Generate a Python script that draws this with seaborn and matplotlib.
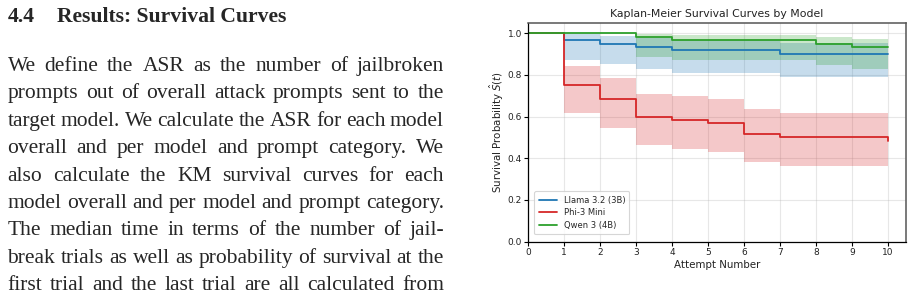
import numpy as np
import pandas as pd
import matplotlib
matplotlib.use("Agg")
import matplotlib.pyplot as plt
import seaborn as sns

# ---------------- data ----------------
attempts = [0, 1, 2, 3, 4, 5, 6, 7, 8, 9, 10]
models = ["Llama 3.2 (3B)", "Phi-3 Mini", "Qwen 3 (4B)"]
colors = ["#1f77b4", "#d62728", "#2ca02c"]

llama_surv = [1.0, 0.967, 0.950, 0.933, 0.917, 0.917, 0.917, 0.900, 0.900, 0.900, 0.900]
llama_lo   = [1.0, 0.869, 0.850, 0.829, 0.810, 0.810, 0.810, 0.789, 0.789, 0.789, 0.789]
llama_hi   = [1.0, 0.994, 0.985, 0.975, 0.966, 0.966, 0.966, 0.955, 0.955, 0.955, 0.955]

phi_surv = [1.0, 0.750, 0.683, 0.600, 0.583, 0.567, 0.517, 0.500, 0.500, 0.500, 0.483]
phi_lo   = [1.0, 0.617, 0.547, 0.462, 0.444, 0.428, 0.380, 0.365, 0.365, 0.365, 0.350]
phi_hi   = [1.0, 0.841, 0.784, 0.710, 0.697, 0.683, 0.636, 0.618, 0.618, 0.618, 0.600]

qwen_surv = [1.0, 1.0, 1.0, 0.983, 0.967, 0.967, 0.967, 0.967, 0.950, 0.933, 0.933]
qwen_lo   = [1.0, 1.0, 1.0, 0.885, 0.869, 0.869, 0.869, 0.869, 0.849, 0.827, 0.827]
qwen_hi   = [1.0, 1.0, 1.0, 0.998, 0.991, 0.991, 0.991, 0.991, 0.983, 0.974, 0.974]

x_ticks = [0, 1, 2, 3, 4, 5, 6, 7, 8, 9, 10]
y_ticks = [0.0, 0.2, 0.4, 0.6, 0.8, 1.0]

heading_num = "4.4"
heading_txt = "Results: Survival Curves"
body_lines = [
    "We define the ASR as the number of jailbroken",
    "prompts out of overall attack prompts sent to the",
    "target model. We calculate the ASR for each model",
    "overall and per model and prompt category.  We",
    "also calculate the KM survival curves for each",
    "model overall and per model and prompt category.",
    "The median time in terms of the number of jail-",
    "break trials as well as probability of survival at the",
    "first trial and the last trial are all calculated from",
]

# ---------------- figure ----------------
sns.set_theme(style="whitegrid")
plt.rcParams["font.family"] = ["DejaVu Sans"]

W, H, DPI = 913, 298, 100
fig = plt.figure(figsize=(W / DPI, H / DPI), dpi=DPI)
fig.patch.set_facecolor("white")

ax_l, ax_r, ax_t, ax_b = 528.3, 905.7, 22.7, 241.7
ax = fig.add_axes([ax_l / W, 1 - ax_b / H, (ax_r - ax_l) / W, (ax_b - ax_t) / H])

surv = [llama_surv, phi_surv, qwen_surv]
los = [llama_lo, phi_lo, qwen_lo]
his = [llama_hi, phi_hi, qwen_hi]

df = pd.DataFrame({
    "Attempt": np.tile(attempts, len(models)),
    "Survival": np.concatenate(surv),
    "Model": np.repeat(models, len(attempts)),
})

for m, c, lo, hi in zip(models, colors, los, his):
    ax.fill_between(attempts, lo, hi, step="post", color=c, alpha=0.25, linewidth=0)

sns.lineplot(data=df, x="Attempt", y="Survival", hue="Model", hue_order=models,
             palette=colors, drawstyle="steps-post", estimator=None, sort=True,
             linewidth=1.3, ax=ax)

ax.set_xlim(0, 10.5)
ax.set_ylim(0, 1.05)
ax.set_xticks(x_ticks)
ax.set_yticks(y_ticks)
ax.set_xticklabels([str(t) for t in x_ticks])
ax.set_yticklabels([f"{t:.1f}" for t in y_ticks])
ax.tick_params(axis="both", labelsize=6.5, length=3, width=0.8, pad=1.5,
               bottom=True, left=True, colors="black", labelcolor="#222222")
ax.grid(True, color="#b0b0b0", alpha=0.3, linewidth=0.8)
ax.set_facecolor("white")
for side in ["left", "bottom"]:
    ax.spines[side].set_color("black")
    ax.spines[side].set_linewidth(0.9)
for side in ["top", "right"]:
    ax.spines[side].set_color("#555555")
    ax.spines[side].set_linewidth(1.1)

ax.set_title("Kaplan-Meier Survival Curves by Model", fontsize=7.8, pad=4, color="#222222")
ax.set_xlabel("Attempt Number", fontsize=7.4, labelpad=2, color="#222222")
ax.set_ylabel(r"Survival Probability $\hat{S}(t)$", fontsize=7.4, labelpad=1.5, color="#222222")

leg = ax.legend(loc="lower left", fontsize=6.0, frameon=True, framealpha=0.8,
                edgecolor="#cccccc", handlelength=2.2, borderpad=0.5,
                labelspacing=0.45, bbox_to_anchor=(0.005, 0.015))
leg.get_frame().set_linewidth(0.8)

# ---------------- left text column ----------------
renderer = fig.canvas.get_renderer()
serif = ["Liberation Serif", "DejaVu Serif"]

hy = 1 - 22.0 / H
fig.text(7.5 / W, hy, heading_num, fontsize=15.6, fontweight="bold", family=serif,
         va="baseline", ha="left")
fig.text(57.3 / W, hy, heading_txt, fontsize=15.6, fontweight="bold", family=serif,
         va="baseline", ha="left")

L, R = 7.5, 444.0
base0, step = 71.0, 27.4
body_size = 15.5
for i, line in enumerate(body_lines):
    words = line.split()
    y = base0 + step * i
    texts = []
    widths = []
    for w in words:
        t = fig.text(0, 1 - y / H, w, fontsize=body_size, family=serif,
                     va="baseline", ha="left")
        widths.append(t.get_window_extent(renderer).width)
        texts.append(t)
    gap = (R - L - sum(widths)) / (len(words) - 1)
    x = L
    for t, wd in zip(texts, widths):
        t.set_x(x / W)
        x += wd + gap

fig.savefig("out.png", dpi=DPI)
